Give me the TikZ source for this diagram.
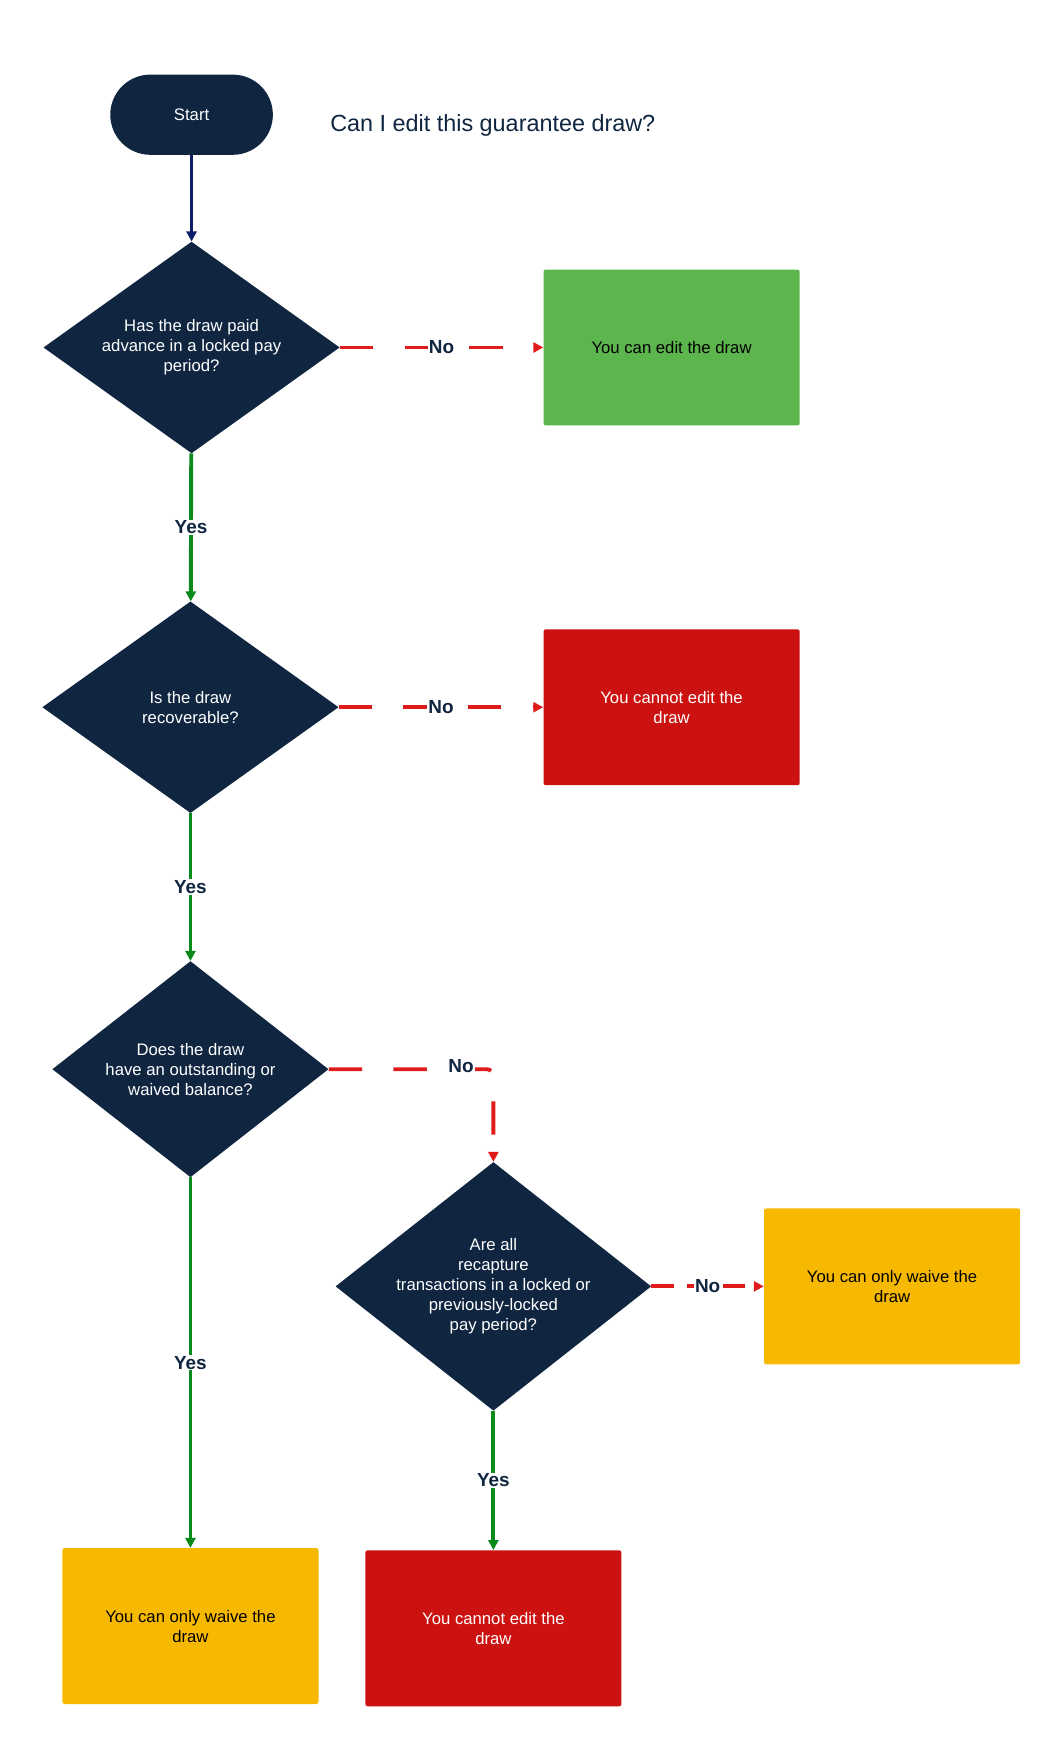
\documentclass[tikz,border=0pt]{standalone}
\usepackage{fontspec}
\setmainfont{Liberation Sans}
\usetikzlibrary{positioning,arrows.meta,shapes.geometric}
\definecolor{navy}{HTML}{0F2540}
\definecolor{okgreen}{HTML}{5CB54D}
\definecolor{nored}{HTML}{CC1111}
\definecolor{waive}{HTML}{F7B900}
\definecolor{yesline}{HTML}{0A8A1A}
\definecolor{noline}{HTML}{E01B1B}

\begin{document}
\begin{tikzpicture}[x=1pt,y=-1pt,font=\fontsize{15}{18}\selectfont]
    \tikzset{decision/.style={diamond,fill=navy,text=white,inner sep=0pt,align=center,minimum width=#1},
      result/.style={rectangle,rounded corners=2pt,minimum width=230pt,minimum height=140pt,align=center},
      yes/.style={-{Triangle[length=9pt,width=9pt]},draw=yesline,line width=3.5pt},
      no/.style={-{Triangle[length=9pt,width=9pt]},draw=noline,line width=3.5pt,dash pattern=on 30pt off 28pt},
      lbl/.style={fill=white,text=navy,font=\fontsize{17}{20}\selectfont\bfseries,inner sep=1pt}}
    \useasboundingbox (0,0) rectangle (950,1565);

    \node[fill=navy,text=white,rounded corners=36pt,minimum width=146pt,minimum height=72pt] (start) at (172,103) {Start};
    \node[anchor=west,text=navy,font=\fontsize{21}{24}\selectfont] (title) at (293,113) {Can I edit this guarantee draw?};

    \node[decision,diamond,aspect=1.4,minimum width=266pt,minimum height=190pt] (paid) at (172,312) {Has the draw paid\\advance in a locked pay\\period?};
    \node[decision,aspect=1.4,minimum width=266pt,minimum height=190pt] (recov) at (171,635) {Is the draw\\recoverable?};
    \node[decision,aspect=1.28,minimum width=248pt,minimum height=194pt] (balance) at (171,960) {Does the draw\\have an outstanding or\\waived balance?};
    \node[decision,aspect=1.27,minimum width=266pt,minimum height=210pt] (recap) at (443,1155) {Are all\\recapture\\transactions in a locked or\\previously-locked\\pay period?};

    \node[result,fill=okgreen] (canedit) at (603,312) {You can edit the draw};
    \node[result,fill=nored,text=white] (cannot1) at (603,635) {You cannot edit the\\draw};
    \node[result,fill=waive] (waive1) at (801,1155) {You can only waive the\\draw};
    \node[result,fill=waive] (waive2) at (171,1460) {You can only waive the\\draw};
    \node[result,fill=nored,text=white] (cannot2) at (443,1462) {You cannot edit the\\draw};
    \coordinate (bend) at (443,960);

    \draw[->,-{Triangle[length=9pt,width=9pt]},draw=navy!80!blue,line width=3pt] (start) -- (paid);
    \draw[no] (paid) -- node[lbl] {No} (canedit);
    \draw[no] (recov) -- node[lbl] {No} (cannot1);
    \draw[no,rounded corners=6pt] (balance.east) -- (bend) -- (recap.north);
    \node[lbl] at (414,957) {No};
    \draw[no,dash pattern=on 20pt off 12pt] (recap) -- node[lbl] {No} (waive1);
    \draw[yes] (paid) -- node[lbl] {Yes} (recov);
    \draw[yes] (recov) -- node[lbl] {Yes} (balance);
    \draw[yes] (balance) -- node[lbl] {Yes} (waive2);
    \draw[yes] (recap) -- node[lbl] {Yes} (cannot2);
\end{tikzpicture}
\end{document}
